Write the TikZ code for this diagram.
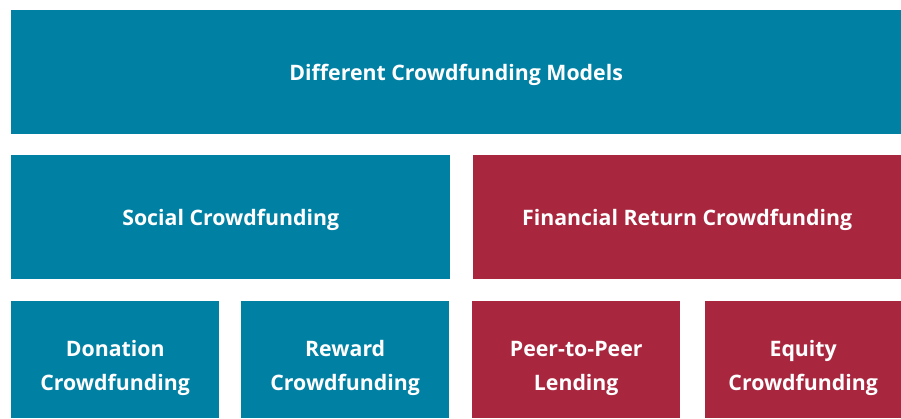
\documentclass[tikz,border=0pt]{standalone}
\usepackage{fontspec}
\setmainfont{Open Sans}
\usetikzlibrary{positioning}

\definecolor{socialteal}{RGB}{0,128,163}
\definecolor{returnred}{RGB}{168,38,62}

\tikzset{
    modelbox/.style={fill=#1, text=white, font=\bfseries\fontsize{21.3}{34}\selectfont,
        align=center, inner sep=0pt, anchor=north west, text height=20pt, text depth=4pt},
    twoline/.style={text height=65pt},
}

\begin{document}
\begin{tikzpicture}[x=1pt, y=-1pt]

    \useasboundingbox (0,0) rectangle (901,418);

    \node (models) [modelbox=socialteal, minimum width=890pt, minimum height=124pt] at (11,10) {Different Crowdfunding Models};

    \node (social) [modelbox=socialteal, minimum width=439pt, minimum height=124pt] at (11,155) {Social Crowdfunding};
    \node (financial) [modelbox=returnred, minimum width=428pt, minimum height=124pt] at (473,155) {Financial Return Crowdfunding};

    \node (donation) [modelbox=socialteal, twoline, minimum width=208pt, minimum height=117pt] at (11,301) {Donation\\Crowdfunding};
    \node (reward) [modelbox=socialteal, twoline, minimum width=208pt, minimum height=117pt] at (241,301) {Reward\\Crowdfunding};
    \node (peer) [modelbox=returnred, twoline, minimum width=208pt, minimum height=117pt] at (472,301) {Peer-to-Peer\\Lending};
    \node (equity) [modelbox=returnred, twoline, minimum width=196pt, minimum height=117pt] at (705,301) {Equity\\Crowdfunding};

\end{tikzpicture}
\end{document}
